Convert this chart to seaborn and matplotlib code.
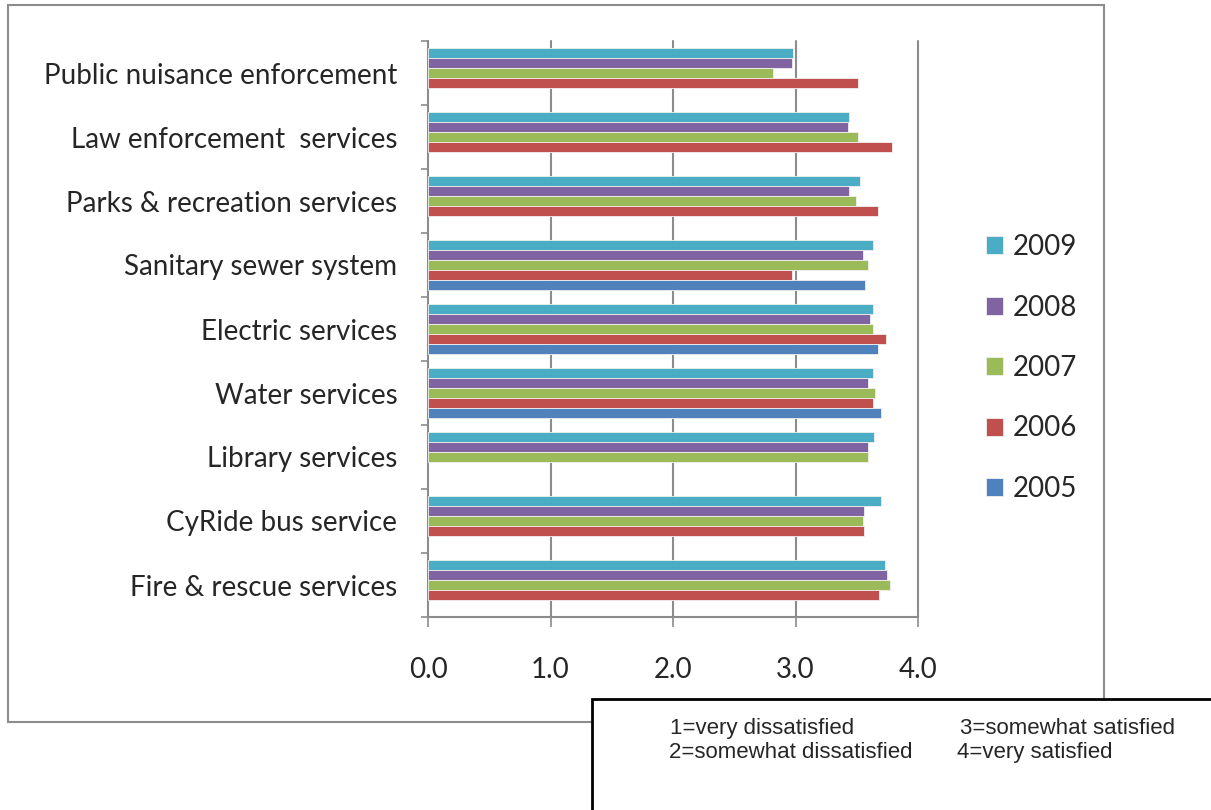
import numpy as np
import pandas as pd
import matplotlib
matplotlib.use('Agg')
import matplotlib.pyplot as plt
import seaborn as sns
from matplotlib.patches import Rectangle

# 数据
services = ['Public nuisance enforcement', 'Law enforcement  services', 'Parks & recreation services',
            'Sanitary sewer system', 'Electric services', 'Water services', 'Library services',
            'CyRide bus service', 'Fire & rescue services']
years = ['2009', '2008', '2007', '2006', '2005']
y2009 = [2.98, 3.44, 3.53, 3.63, 3.63, 3.63, 3.64, 3.70, 3.73]
y2008 = [2.97, 3.43, 3.44, 3.55, 3.61, 3.59, 3.59, 3.56, 3.75]
y2007 = [2.82, 3.51, 3.49, 3.59, 3.63, 3.65, 3.59, 3.55, 3.77]
y2006 = [3.51, 3.79, 3.67, 2.97, 3.74, 3.63, np.nan, 3.56, 3.68]
y2005 = [np.nan, np.nan, np.nan, 3.57, 3.67, 3.70, np.nan, np.nan, np.nan]
colors = ['#4BACC6', '#8064A2', '#9BBB59', '#C0504D', '#4F81BD']
ticks = [0.0, 1.0, 2.0, 3.0, 4.0]

rows = []
for yr, vals in zip(years, [y2009, y2008, y2007, y2006, y2005]):
    for s, v in zip(services, vals):
        rows.append({'service': s, 'year': yr, 'score': v})
df = pd.DataFrame(rows)

sns.set_style('white')
plt.rcParams['font.family'] = ['Lato', 'DejaVu Sans']

fig = plt.figure(figsize=(12.11, 8.10), dpi=100)
ax = fig.add_axes([428 / 1211, 1 - 617 / 810, 490 / 1211, 576 / 810])

sns.barplot(data=df, y='service', x='score', hue='year', hue_order=years, order=services,
            palette=colors, saturation=1, width=0.78, orient='h', ax=ax,
            edgecolor='#f0f0f0', linewidth=0.6, zorder=3)

ax.set_xlim(0, 4)
ax.set_ylim(len(services) - 0.5, -0.5)
ax.set_xticks(ticks)
ax.set_xticklabels([f'{t:.1f}' for t in ticks])
ax.set_xlabel('')
ax.set_ylabel('')
for t in ticks[1:]:
    ax.axvline(t, color='#8c8c8c', lw=1.5, zorder=1, clip_on=False)

for side in ['top', 'right']:
    ax.spines[side].set_visible(False)
for side in ['left', 'bottom']:
    ax.spines[side].set_color('#8c8c8c')
    ax.spines[side].set_linewidth(1.5)

ax.set_yticks(np.arange(-0.5, len(services), 1.0), minor=True)
ax.tick_params(axis='y', which='major', length=0, pad=22, labelsize=20, labelcolor='#262626')
ax.tick_params(axis='y', which='minor', length=5, width=1.2, color='#8c8c8c', direction='out', left=True)
ax.tick_params(axis='x', which='major', length=7, width=1.2, color='#8c8c8c', direction='out',
               bottom=True, pad=22, labelsize=20, labelcolor='#262626')

h, l = ax.get_legend_handles_labels()
ax.legend(h, l, loc='center left', bbox_to_anchor=(972 / 1211, 1 - 368 / 810),
          bbox_transform=fig.transFigure, frameon=False, fontsize=20, borderpad=0,
          handlelength=0.62, handleheight=0.62, handletextpad=0.35, labelspacing=1.24)

# 外框
fig.patches.append(Rectangle((8 / 1211, 1 - 722 / 810), 1096 / 1211, 717 / 810,
                             transform=fig.transFigure, fill=False, edgecolor='#8c8c8c', lw=1.5))
# 说明框
fig.patches.append(Rectangle((592 / 1211, -0.01), 0.7, (810 - 699) / 810 + 0.01,
                             transform=fig.transFigure, facecolor='white', edgecolor='black', lw=2,
                             zorder=5))
note_kw = dict(fontsize=16, family='Liberation Sans', va='baseline', zorder=6)
fig.text(670 / 1211, 1 - 734 / 810, '1=very dissatisfied', **note_kw)
fig.text(960 / 1211, 1 - 734 / 810, '3=somewhat satisfied', **note_kw)
fig.text(669 / 1211, 1 - 758 / 810, '2=somewhat dissatisfied', **note_kw)
fig.text(957 / 1211, 1 - 758 / 810, '4=very satisfied', **note_kw)

fig.savefig('out.png', dpi=100)
